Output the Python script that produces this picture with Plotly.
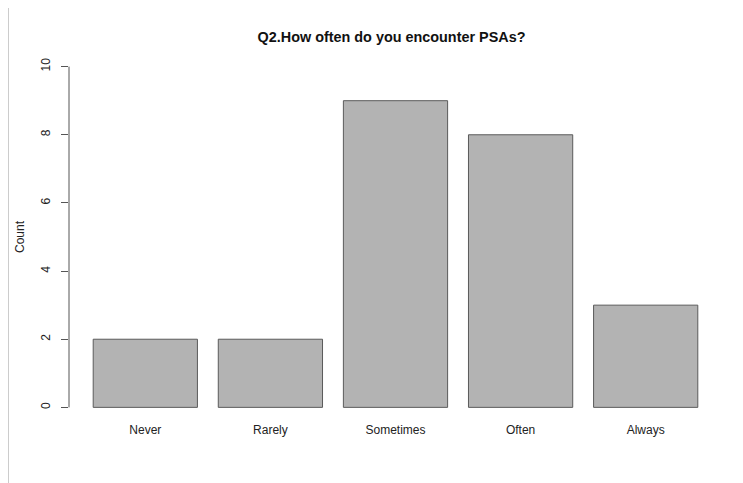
import plotly.graph_objects as go

categories = ["Never", "Rarely", "Sometimes", "Often", "Always"]
counts = [2, 2, 9, 8, 3]
y_ticks = [0, 2, 4, 6, 8, 10]

# R barplot geometry: width 1, space 0.2
centers = [0.7 + 1.2 * i for i in range(len(categories))]

fig = go.Figure()
fig.add_trace(go.Bar(
    x=centers, y=counts, width=1.0,
    marker=dict(color="#B3B3B3", line=dict(color="#5a5a5a", width=1)),
    hoverinfo="skip",
))

font_family = "Liberation Sans, Arial, Helvetica, sans-serif"

# page body has an 8px default margin, so the figure is drawn 8px smaller
W, H = 735, 475
L, R, T, B = 61, 21, 45, 62
plot_w = W - L - R
plot_h = H - T - B

fig.update_layout(
    width=W, height=H,
    margin=dict(l=L, r=R, t=T, b=B, autoexpand=False),
    plot_bgcolor="white", paper_bgcolor="white",
    showlegend=False,
    font=dict(family=font_family, size=12, color="#222"),
    title=dict(text="<b>Q2.How often do you encounter PSAs?</b>",
               x=0.5 - 4 / plot_w, xanchor="center", xref="paper",
               y=1 - 29 / H, yanchor="middle",
               font=dict(size=14.4, color="#111")),
    xaxis=dict(range=[-0.032, 6.232], tickvals=centers, ticktext=categories,
               showgrid=False, zeroline=False, showline=False, ticks="",
               automargin=False,
               tickfont=dict(size=12, color="#222")),
    yaxis=dict(range=[-0.4, 10.4], tickvals=y_ticks,
               showgrid=False, zeroline=False, showline=False,
               ticks="outside", ticklen=7, tickcolor="#555", tickwidth=1,
               tickangle=-90, ticklabelstandoff=6, automargin=False,
               tickfont=dict(size=12, color="#222"),
               title=dict(text="Count", standoff=12, font=dict(size=12, color="#222"))),
)

# R-style y axis line spanning only the tick range
fig.add_shape(type="line", xref="paper", yref="y", x0=0, x1=0,
              y0=y_ticks[0], y1=y_ticks[-1], line=dict(color="#555", width=1))
# faint border line at the left edge of the image
xl = (0.5 - L) / plot_w
fig.add_shape(type="line", xref="paper", yref="paper",
              x0=xl, x1=xl, y0=(plot_h + T - H) / plot_h, y1=(plot_h + T) / plot_h,
              line=dict(color="#cccccc", width=1))

fig.write_html("out.html")
